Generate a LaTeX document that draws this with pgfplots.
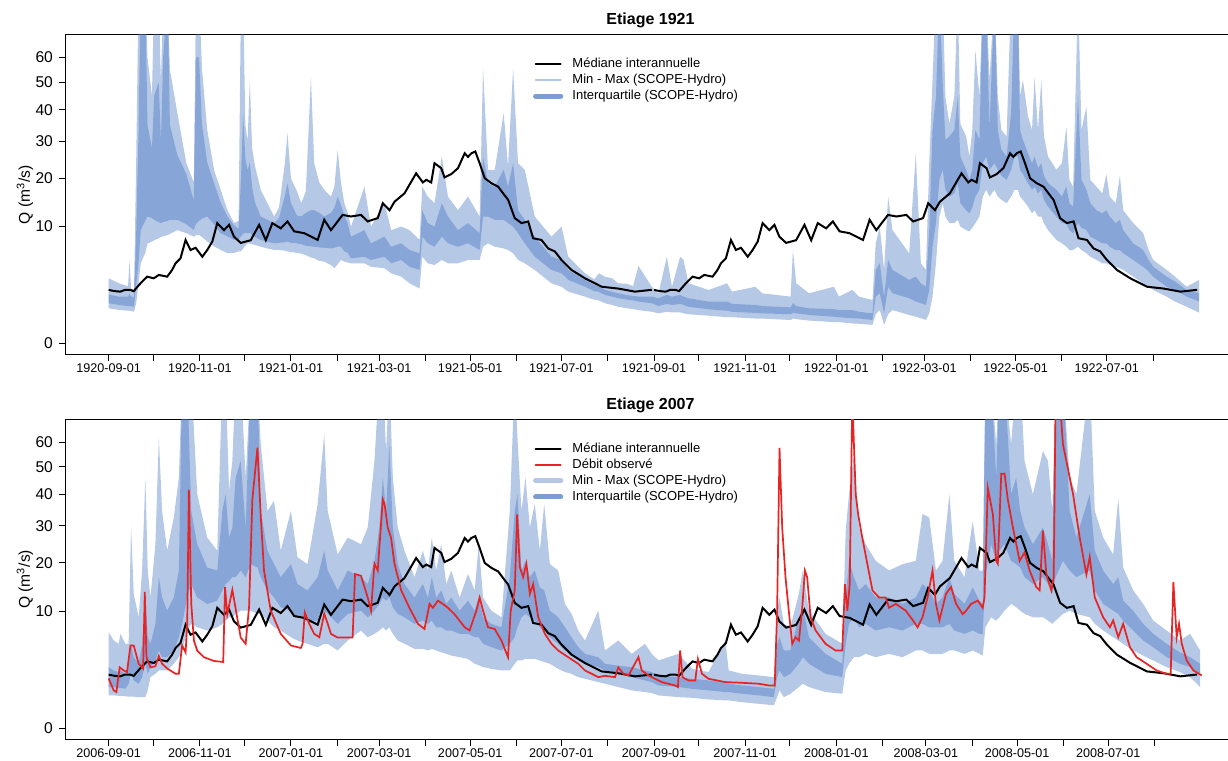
\documentclass[border=0pt]{standalone}
\usepackage{fontspec}
\setmainfont{Liberation Sans}
\usepackage{pgfplots}
\usepackage{pgfplotstable}
\usepgfplotslibrary{fillbetween}
\pgfplotsset{compat=1.18}

\definecolor{bandblue}{RGB}{60,110,190}
\definecolor{obsred}{RGB}{232,35,35}
\definecolor{legminmax}{RGB}{181,199,229}
\definecolor{legiqr}{RGB}{122,158,210}

% Interannual daily median (one hydrological year, day 0 = 1 September)
\pgfplotstableread{
d v
0 2.09
4 2.0
7.8 1.96
11 2.1
14.5 2.09
16.8 2.0
21.3 2.64
25.8 3.26
30.2 3.1
33.6 3.43
39.2 3.26
42.5 3.95
44.8 4.7
48.1 5.3
51.5 7.84
54.8 6.39
58.2 6.7
62.7 5.5
66 6.39
69.4 7.6
72.7 10.6
77.2 9.4
80.6 10.3
83.9 8.35
88.4 7.4
95.1 7.8
100.7 10.3
105.2 7.8
109.6 10.6
115.2 9.7
119.7 10.9
124.2 9.2
130.9 8.9
139.9 7.84
144.3 11.2
148.8 9.4
156.6 12.1
162.2 11.8
168.9 12.1
173.4 10.9
180.1 11.5
183.5 14.4
188 13.0
191.3 14.7
198 16.5
205.8 21.2
210.3 19.0
212.6 19.6
215.9 19
218.1 23.8
222.6 22.5
224.8 20.2
229.3 21
233.8 22.5
238.3 26.5
240.5 25.5
242.8 26.5
245.4 27
248.3 23.8
251.7 20
256.2 18.8
260.7 18.0
264 16.5
267.4 15.1
271.8 11.5
276.3 10.6
280.8 10.9
284.1 8.1
289.7 7.84
294.2 6.6
298.6 6.2
303.1 5.1
309.8 3.95
318.8 3.1
330 2.35
341.1 2.2
352.3 1.96
363.5 2.1
}\mediane

% SCOPE-Hydro ensemble, 1920-09-01 to 1922-08-31: min, q25, q75, max
\pgfplotstableread{
d lo q1 q3 hi
0 0.90 1.18 1.75 3.10
7 0.82 1.08 1.60 2.64
13 0.78 1.02 1.60 2.40
14 0.78 1.02 1.80 5.10
15 0.76 1.00 1.60 2.20
17 0.73 0.98 1.60 2.10
18.5 1.20 2.60 9.40 25.6
20 2.60 4.70 33.0 90
21.5 4.70 9.40 90 90
24.5 6.00 11.0 90 90
26 7.30 11.8 35.0 60
29 7.60 11.5 28.0 45
30.5 7.80 11.2 45.0 90
33.5 8.10 10.8 50.0 90
35 8.30 10.6 30.0 50
36.5 8.40 10.8 60.0 90
39.5 8.60 11.0 90 90
41 8.80 11.2 35.0 55
46 9.40 11.2 26.0 38.9
52 8.90 10.4 21.0 23.8
57 8.35 9.40 15.0 19.0
58.5 8.60 10.5 60.0 90
60.5 8.60 11.0 60.0 90
62.5 8.30 11.4 35.0 55
66 7.60 11.8 24.0 33.4
70.6 6.90 10.4 18.8 22.0
75 6.40 8.90 14.5 17.3
79.5 5.95 8.40 11.8 13.0
84 6.00 7.84 10.2 10.6
87 6.20 7.90 9.60 11.0
88.6 6.20 8.40 20.0 90
90 6.60 8.80 38.9 90
91.5 7.00 9.00 25.0 35
93 7.34 8.90 22.0 30
94.5 7.30 9.00 24.0 50.9
96 7.20 8.60 18.0 28
98 7.10 8.30 14.5 23
101.8 6.85 7.84 11.8 17.3
106.3 6.60 7.60 11.2 14.4
110.7 6.40 7.34 10.6 11.8
114 6.40 7.40 11.5 13.5
118 6.30 7.50 16.0 24
119.7 6.20 7.60 18.8 32.5
122 6.10 7.40 14.5 20
126 6.00 7.34 12.0 17
129 5.90 7.20 11.8 14.4
132 5.70 7.00 12.5 17
135.4 5.40 6.90 13.0 52
137.6 5.30 6.85 13.0 23.8
141 5.00 6.75 12.5 19
144.3 4.90 6.70 11.8 17.3
148.8 4.50 6.60 12.5 15.8
151.1 4.13 6.70 13.5 18
153.3 4.60 6.85 15.8 27.4
155.5 5.10 6.85 14.0 19
157.7 4.90 6.20 12.0 14.4
160 4.80 6.00 10.5 12.5
162.2 4.70 5.30 8.35 10.0
171.2 4.70 5.50 9.40 18.0
175.6 4.30 5.10 7.34 10.0
184.6 4.13 5.50 8.35 14.4
189.1 3.60 4.70 6.85 9.40
195.8 3.26 5.10 7.34 10.0
201.4 2.64 4.30 6.39 9.40
208.1 2.20 3.95 5.95 7.84
209.9 5.50 8.35 13.0 18.0
213.6 4.70 7.34 10.6 15.8
218.1 4.50 6.85 10.0 14.4
223 5.10 8.35 14.4 25.6
227.1 4.70 7.34 11.8 15.8
233.8 4.70 6.85 9.40 13.0
240.5 5.10 7.34 10.6 15.8
248.3 5.10 6.39 8.90 11.8
250.6 6.85 11.8 25.6 55.5
253.9 7.34 11.8 18.8 22.1
258.4 6.85 11.2 18.0 22.1
264.4 6.60 11.2 22.1 38.9
267.3 6.39 10.6 18.0 22.9
270.7 5.95 10.0 23.8 55.5
274 5.10 8.90 13.0 23.8
278.5 4.70 7.34 11.2 22.1
285.2 3.95 5.50 8.35 11.8
296.4 2.64 3.95 5.50 8.35
303.1 2.35 3.60 5.10 10.0
307.6 1.96 2.95 3.95 5.50
318.8 1.60 2.35 2.95 3.60
325 1.40 2.00 2.50 3.00
328 1.35 1.95 2.40 3.60
332.2 1.18 1.72 2.09 3.26
337 1.08 1.60 1.95 3.10
341.1 0.98 1.49 1.84 2.64
347 0.90 1.40 1.70 2.60
351 0.86 1.35 1.65 2.40
354.6 0.81 1.28 1.60 4.40
363.5 0.73 1.18 1.60 2.35
368 0.66 1.02 1.49 1.84
373.6 0.73 1.14 1.72 5.50
377 0.70 1.08 1.60 2.35
382.5 0.70 1.14 1.72 5.50
384.8 0.66 1.08 1.60 5.10
388.1 0.62 0.98 1.49 2.64
401.5 0.56 0.85 1.28 2.09
413.9 0.50 0.78 1.28 2.64
417.2 0.50 0.73 1.14 1.96
432.9 0.45 0.68 1.08 2.35
437.3 0.45 0.66 1.02 1.84
456.4 0.40 0.62 0.95 1.60
458 0.45 0.68 1.18 6.39
460.2 0.43 0.66 1.02 2.64
468.7 0.38 0.59 0.90 1.84
485.4 0.33 0.52 0.86 2.35
488.8 0.33 0.50 0.81 1.60
497.7 0.29 0.46 0.81 2.09
502.2 0.28 0.45 0.73 1.60
511.2 0.25 0.40 0.66 1.38
513.4 0.62 1.60 3.95 7.34
516.1 0.81 1.84 4.70 10.0
519 0.25 0.66 1.60 3.95
521.7 0.62 2.35 5.10 15.8
524.6 0.81 1.84 3.95 9.40
535.8 0.59 1.49 2.95 5.95
540.2 0.52 1.28 3.26 26.5
543.6 0.46 1.18 2.64 4.70
547 0.40 1.08 2.35 3.95
549.2 0.66 2.09 9.40 23.8
551.4 1.60 6.85 33.4 50.9
553.7 4.70 10.6 44.7 90
556 11.8 19.6 90 90
558.2 14.4 22.1 50 90
560 11.8 17.3 30.4 44.7
562.7 10.6 15.8 31.4 35.4
566 10.6 16.5 33.4 44.7
568.3 11.2 18.8 44.7 90
570 10.0 14.4 25.6 35.4
573.9 9.40 13.0 22.1 31.4
576.1 9.20 12.4 19.6 25.6
578 9.80 13.5 22.1 33.4
580.1 10.6 15.8 33.4 63
582.8 11.8 17.3 30.4 44.7
585.1 15.8 23.8 90 90
587.3 17.3 25.6 90 90
589.5 15.8 22.1 33.4 50.9
592.9 17.3 23.8 90 90
595.1 15.8 22.1 33.4 44.7
597.5 15.1 20.6 27.5 33.4
601 14.4 19.6 25.6 31.4
604 15.8 22.1 38.9 90
606.3 17.3 25.6 90 90
608.5 17.3 25.6 90 90
610 15.8 22.1 33.4 44.7
611.9 15.1 21.0 30.4 50.9
615.3 13.7 18.8 26.5 37.8
618 12.4 17.3 23.8 33.4
619.7 13.0 18.0 25.6 52
622 11.8 16.5 22.5 33.4
624.2 11.8 17.3 23.8 50.9
626 10.6 15.1 20.6 31.4
628.7 9.40 13.7 18.8 25.6
634.3 7.84 11.8 17.3 22.1
638 7.34 10.6 15.8 23.8
641 6.85 10.6 18.0 34.4
643 6.39 9.40 14.4 19.6
645.5 6.39 8.90 13.7 18.0
648.8 6.85 10.6 44.7 90
651.1 6.39 9.80 19.6 33.4
654.4 5.95 9.40 17.3 41.1
657 5.50 8.35 14.4 19.6
661.1 5.10 7.84 13.0 18.0
665 4.70 7.34 12.4 16.5
667.8 4.70 7.34 13.0 21.0
670 4.50 6.85 11.8 15.8
674 4.30 6.39 10.6 14.4
676.8 4.13 6.39 11.2 20.6
679 3.95 5.95 9.40 13.0
685.7 3.26 5.10 7.34 10.6
692.4 2.64 4.30 6.39 8.90
696 2.35 3.80 5.10 6.39
699.1 2.09 3.26 4.30 5.10
708.1 1.60 2.35 3.26 3.95
713.7 1.28 2.09 2.80 3.26
721.5 0.98 1.60 2.09 2.35
729.8 0.69 1.28 1.84 2.95
}\bandA

% SCOPE-Hydro ensemble, 2006-09-01 to 2008-08-31: min, q25, q75, max
\pgfplotstableread{
d lo q1 q3 hi
0 0.78 1.23 2.72 6.74
3.4 0.78 1.23 2.43 5.62
6.7 0.76 1.18 2.30 5.20
7.9 0.76 1.18 2.43 6.51
11.2 0.74 1.13 2.16 5.20
13.4 0.72 1.44 3.03 5.20
15 0.72 2.16 5.20 30.0
16.8 0.72 1.66 3.68 13.2
20.1 0.70 1.44 3.03 9.00
22.4 0.70 1.90 5.20 18.2
24.6 0.70 3.03 12.5 46.0
26.2 1.04 2.16 6.05 18.2
28 1.90 2.72 5.20 12.5
31.3 2.16 3.35 7.96 24.8
33.6 2.43 4.41 16.7 62
35.8 2.43 3.68 12.5 34.6
39.2 2.43 3.68 10.1 23.1
43.6 3.03 4.41 12.5 32.5
47 3.68 6.05 18.2 46.0
49.2 4.41 7.96 90 90
52.6 6.97 12.5 90 90
55.3 7.96 15.2 34.6 90
59.3 7.45 12.5 24.8 40.1
66 6.97 11.3 18.9 26.6
72.7 7.45 11.9 18.2 23.1
76.1 7.96 13.9 34.6 90
78.3 8.47 15.2 40.1 90
80.6 9.00 15.9 26.6 41.3
82.8 9.00 16.7 29.5 52.3
85 9.56 16.7 46.0 90
88.4 10.1 18.2 52.3 90
91.7 10.1 16.7 29.5 46.0
95.1 10.1 19.7 90 90
99.6 9.56 18.9 90 90
101.8 9.56 16.7 34.6 59.1
106.3 8.47 13.9 23.1 34.6
110.7 7.45 12.5 19.7 37.9
115.2 6.97 10.7 16.7 23.1
122 6.05 10.1 19.7 34.6
126.4 5.62 9.00 15.2 21.4
133.1 5.20 8.47 13.9 19.7
139.9 4.79 8.47 16.7 36.8
144.3 5.20 10.1 23.1 63.3
146.6 5.20 9.56 18.2 34.6
153.3 4.41 7.96 13.9 22.1
160 5.62 9.56 18.2 26.6
168.9 6.97 10.1 16.7 24.8
173.4 6.05 9.00 15.2 29.5
177.9 6.51 10.1 20.5 52.3
181.2 6.97 11.3 29.5 90
183.5 7.45 12.5 46.0 90
185.7 6.97 11.9 34.6 56.3
187.9 7.45 12.5 59.1 90
190.2 6.51 10.7 29.5 46.0
193.5 5.62 9.56 19.7 29.5
198 5.20 9.00 15.2 23.1
204.7 4.60 7.96 12.5 16.7
210.3 4.60 8.47 15.2 23.1
213.7 4.41 7.96 12.5 18.2
216.3 4.60 8.47 16.7 26.6
219.2 4.41 7.45 12.5 18.2
222.6 4.20 7.45 13.9 24.8
226 4.04 6.97 11.3 15.2
229.3 3.85 6.97 12.5 18.2
234.9 3.68 6.51 10.1 12.5
240.5 3.50 6.51 11.9 17.4
245 3.03 6.05 10.1 13.9
247.7 2.90 6.05 12.5 24.8
250.6 2.72 5.20 9.00 12.5
256.2 2.57 4.79 7.96 10.1
262.9 2.43 4.41 7.45 9.00
268.5 2.43 5.20 16.7 34.6
271.8 3.03 6.05 34.6 90
273.6 3.35 7.45 40.1 62
276.3 3.35 9.00 18.2 34.6
279 3.50 9.56 20.5 46.0
281.9 3.50 9.00 16.7 29.5
285.2 3.50 8.47 18.2 36.8
288.6 3.35 7.45 14.5 23.1
291.5 3.20 6.97 13.9 36.8
295.3 3.03 6.05 10.1 19.7
300.9 2.57 5.20 9.00 18.2
305.4 2.30 4.41 7.45 11.3
309.8 2.16 4.04 6.05 9.56
314.3 1.90 3.35 4.79 6.97
318.8 1.78 3.03 4.04 5.62
327.7 1.55 2.72 3.68 10.1
332.2 1.44 2.43 3.03 4.41
341.1 1.23 2.16 2.85 5.62
350.1 1.04 1.90 2.72 4.04
359 0.95 1.66 2.43 5.20
363.5 0.90 1.55 2.30 4.04
368 0.78 1.33 2.03 3.35
381.4 0.70 1.23 1.90 4.04
390.4 0.67 1.13 1.78 2.57
401.5 0.60 1.04 1.66 2.30
412.7 0.56 0.95 1.55 5.62
415 0.56 0.95 1.44 2.43
423.9 0.49 0.86 1.33 2.16
435.1 0.43 0.78 1.23 2.03
445.2 0.38 0.70 1.13 1.90
447.4 0.70 1.90 5.20 10.1
449 1.04 2.43 6.05 12.5
451.9 0.70 1.90 4.41 7.96
456.3 0.86 2.16 4.41 7.45
461.9 1.23 3.03 9.00 13.2
464.6 1.44 3.68 10.7 18.2
468.7 1.23 3.03 6.05 10.1
479.8 0.95 2.16 4.04 6.51
491 0.86 1.90 3.03 5.20
493.3 2.43 5.20 12.5 28.5
495.5 3.03 7.96 20.5 40.1
498.8 3.68 9.00 16.7 55
502.2 3.68 7.45 13.9 29.5
506.7 4.04 7.96 15.2 24.8
513.4 3.68 6.97 12.5 20.5
522.3 4.04 7.45 12.5 18.2
531.3 3.68 6.97 11.3 19.7
540.2 4.41 7.96 12.5 20.5
544.7 4.41 7.96 15.2 33.6
549.2 4.04 7.45 13.9 32.5
553.7 4.04 7.45 11.3 18.2
558.1 4.04 7.45 12.5 20.5
562.7 4.41 7.96 16.7 40.1
566 4.41 6.97 13.2 20.5
572.8 4.04 6.51 11.3 16.7
578.3 4.41 6.97 14.5 31.4
582.8 4.04 6.51 11.9 18.2
585 3.85 6.51 11.3 18.2
586.8 7.45 16.7 90 90
590.6 9.00 24.8 90 90
594 8.47 20.5 46.0 59.1
596.2 9.00 23.1 90 90
599.6 10.1 24.8 90 90
604 11.3 20.5 40.1 59.1
607.4 10.7 19.7 46.0 90
610.1 10.1 18.9 34.6 90
613 9.56 16.7 29.5 52.3
618.6 9.00 15.2 24.8 40.1
625.3 9.00 16.7 29.5 56.3
628.7 8.47 15.2 24.8 52.3
631.6 7.96 13.2 20.5 34.6
633.8 8.47 16.7 90 90
638.7 9.56 20.5 90 90
643.2 10.1 18.2 34.6 46.0
647.7 9.56 16.7 26.6 40.1
656.6 9.00 18.2 40.1 90
660 7.96 13.9 23.1 34.6
665.6 6.97 11.3 18.2 26.6
672.3 6.05 10.1 15.2 22.1
675.7 5.62 9.56 16.7 38.7
679 5.20 8.47 11.9 18.9
685.7 4.41 6.97 10.1 13.9
692.4 3.85 5.62 7.96 11.3
699.1 3.35 4.79 6.51 8.47
708.1 2.72 3.68 5.20 6.97
717 2.30 3.03 4.20 5.62
723.8 1.90 2.72 3.68 6.51
730.5 1.23 2.16 3.03 4.41
}\bandB

% Observed discharge, 2006-09-01 to 2008-08-31
\pgfplotstableread{
d v
0 1.8
3.4 1.04
5.2 0.95
7.4 2.7
10.1 2.43
12.3 2.3
14.6 5.0
16.8 5.0
20.1 3.03
23.1 2.6
24.2 13.6
25.3 3.7
28 2.7
31.3 2.8
33.6 3.8
35.8 3.03
39.2 2.6
44.8 2.16
47 2.16
49.2 5.0
51.5 4.2
52.6 8.0
53.7 41.7
55.3 11.3
57.1 5.6
59.3 4.4
63.8 3.68
70.5 3.3
76.7 3.2
77.9 14.6
79.4 9.5
82.8 14.0
88.4 6.0
91.7 5.2
94 10.8
96.2 38.3
99.6 57.7
101.8 33
104 18.2
108.5 10.1
115.2 6.5
122 5.0
128.6 4.7
129.8 5.2
131.3 9.8
134.2 8.0
137.6 6.5
141 6.05
144.3 9.6
146.6 8.0
148.8 6.5
153.3 6.0
163.3 6.0
164.9 17.4
168.9 17.0
173.4 12.5
175.6 10.1
177.9 19.8
180.1 18.2
183.5 38.3
184.6 37
186.8 29.5
189 26.6
191.3 19.8
195.8 13.9
201.3 10.6
207 7.96
211.4 7.2
214.8 11.3
217 10.6
220.4 11.9
223.7 11.3
227.1 10.6
231.5 9.5
238.3 7.45
241.6 7.0
246.1 10.1
248.3 12.5
250.6 10.1
253.9 7.45
258.4 7.2
262.9 5.6
267.3 3.68
269.1 10.1
271.8 13.9
273.4 33.5
275.2 19
277.4 16.7
279.6 19.8
281.9 13.2
284.1 15.2
287.5 9.0
292 6.5
296.4 5.2
300.9 4.41
307.6 3.68
314.3 3.03
318.8 2.43
323.3 2.16
327.7 1.9
332.2 2.0
338.9 1.9
341.1 2.7
344.5 2.16
347.9 2.03
354.6 3.68
356.8 2.43
361.3 2.03
363.5 1.9
370.2 1.55
379.2 1.33
381 1.23
382.5 4.41
384.1 1.9
388.1 1.66
392.6 1.66
394.4 3.5
397.1 2.16
401.5 1.78
412.7 1.55
423.9 1.5
435.1 1.44
441.8 1.33
445.8 1.33
447.4 10.1
449 57.6
450.8 29.5
453 16.7
455.2 10.1
457.5 5.2
459.7 6.05
462 5.6
464.2 10.6
466 18.2
467.5 16.7
469.8 9.0
473.1 7.0
479.8 5.2
486.5 4.41
491 4.41
492.8 15.2
494.4 10.1
496 15.2
497.7 80
500 40
501.8 33
504.4 26.6
506.7 21.8
511.2 13.9
515.6 12.5
520.1 12.5
522.3 10.6
526.8 11.3
533.5 10.1
538 8.6
541.4 7.45
544.7 9.0
548.1 12.5
551.4 18.2
553.7 11.3
556 8.5
560.4 13.2
563.8 14.6
567.2 11.3
571.6 9.5
573.9 10.1
577.2 11.3
581.7 11.9
585 10.6
586.2 12.5
588.4 42.3
591.8 33.5
594 20.5
595.1 19.8
597.4 47.4
599.6 47.4
601.8 38.3
605.2 29.5
609.7 20.5
613 22.6
616.4 18.2
620.8 14.6
623.1 13.9
625.3 28.6
627.6 17.3
630.9 13.9
632.5 16.7
633.8 80
636.5 80
638.7 59
641 52.3
645.5 40
649.9 26.6
654.4 17.3
656.6 21.5
660 12.5
665.6 9.0
670.1 7.45
672.3 8.5
675.7 6.05
679 7.96
683.5 4.8
688 3.68
694.7 3.03
701.4 2.43
708.1 2.16
710.8 2.16
712.6 15.6
714.8 6.05
716.4 7.96
718.2 5.2
721.5 3.35
726 2.43
731.6 2.03
}\observe

\pgfplotsset{
  hydro/.style={
    scale only axis,
    width=589pt, height=160.35pt,
    xmin=-29.2, xmax=759.2,
    ymin=-0.316, ymax=8.37,
    axis line style={line width=0.5pt},
    every tick/.style={black, line width=0.5pt},
    tick align=outside,
    major tick length=3pt,
    xtick pos=left, ytick pos=left,
    ytick={0,3.16228,4.47214,5.47723,6.32456,7.07107,7.74597},
    yticklabels={0,10,20,30,40,50,60},
    y filter/.expression={sqrt(y)},
    yticklabel style={font=\fontsize{7.8}{9}\selectfont, anchor=east, inner sep=0pt, xshift=-2.85pt},
    xticklabel style={font=\fontsize{6.3}{7.5}\selectfont, anchor=north, inner sep=0pt, yshift=-1.25pt},
    ylabel={Q (m\textsuperscript{3}/s)},
    ylabel style={font=\fontsize{7.8}{9}\selectfont, at={(axis description cs:-0.034,0.5)}, anchor=center},
    every axis title shift=0pt,
    title style={font=\bfseries\fontsize{8}{9.6}\selectfont, at={(axis description cs:0.497,1)}, anchor=center, yshift=7.0pt},
    legend style={draw=none, fill=none, inner sep=0pt, at={(0.397,0.933)}, anchor=north west,
      font=\fontsize{6.5}{7.8}\selectfont,
      nodes={inner sep=0.6pt, text height=5.2pt, text depth=1.6pt},
      /tikz/every odd column/.append style={column sep=4pt}},
    legend cell align=left,
    legend image code/.code={\draw[#1, line cap=round] (0pt,0pt) -- (12.5pt,0pt);},
  },
  medline/.style={black, line width=1pt, forget plot},
  edge/.style={draw=none, forget plot},
  bandfill/.style={fill=bandblue, fill opacity=0.38, draw=none, forget plot},
}

\begin{document}
\begin{tikzpicture}

% ---- Etiage 1921 ----
\begin{axis}[hydro, at={(32.5pt,-17.15pt)}, anchor=north west,
  title={Etiage 1921},
  xtick={0,30,61,91,122,153,181,212,242,273,303,334,365,395,426,456,487,518,546,577,607,638,668,699},
  xticklabels={1920-09-01,,1920-11-01,,1921-01-01,,1921-03-01,,1921-05-01,,1921-07-01,,1921-09-01,,1921-11-01,,1922-01-01,,1922-03-01,,1922-05-01,,1922-07-01,},
]
\addlegendimage{black, line width=1pt}
\addlegendentry{Médiane interannuelle}
\addlegendimage{legminmax, line width=1.1pt}
\addlegendentry{Min - Max (SCOPE-Hydro)}
\addlegendimage{legiqr, line width=2.6pt}
\addlegendentry{Interquartile (SCOPE-Hydro)}

\addplot[medline] table[x=d, y=v] {\mediane};
\addplot[medline] table[x expr=\thisrow{d}+365, y=v] {\mediane};

\addplot[edge, name path=ahi] table[x=d, y=hi] {\bandA};
\addplot[edge, name path=alo] table[x=d, y=lo] {\bandA};
\addplot[edge, name path=aqt] table[x=d, y=q3] {\bandA};
\addplot[edge, name path=aqb] table[x=d, y=q1] {\bandA};
\addplot[bandfill] fill between[of=ahi and alo];
\addplot[bandfill] fill between[of=aqt and aqb];
\end{axis}

% ---- Etiage 2007 ----
\begin{axis}[hydro, at={(32.5pt,-209.5pt)}, anchor=north west,
  title={Etiage 2007},
  xtick={0,30,61,91,122,153,181,212,242,273,303,334,365,395,426,456,487,518,547,578,608,639,669,700},
  xticklabels={2006-09-01,,2006-11-01,,2007-01-01,,2007-03-01,,2007-05-01,,2007-07-01,,2007-09-01,,2007-11-01,,2008-01-01,,2008-03-01,,2008-05-01,,2008-07-01,},
]
\addlegendimage{black, line width=1pt}
\addlegendentry{Médiane interannuelle}
\addlegendimage{obsred, line width=1pt}
\addlegendentry{Débit observé}
\addlegendimage{legminmax, line width=2.6pt}
\addlegendentry{Min - Max (SCOPE-Hydro)}
\addlegendimage{legiqr, line width=2.6pt}
\addlegendentry{Interquartile (SCOPE-Hydro)}

\addplot[medline] table[x=d, y=v] {\mediane};
\addplot[medline] table[x expr=\thisrow{d}+365, y=v] {\mediane};
\addplot[obsred, line width=0.85pt, forget plot] table[x=d, y=v] {\observe};

\addplot[edge, name path=bhi] table[x=d, y=hi] {\bandB};
\addplot[edge, name path=blo] table[x=d, y=lo] {\bandB};
\addplot[edge, name path=bqt] table[x=d, y=q3] {\bandB};
\addplot[edge, name path=bqb] table[x=d, y=q1] {\bandB};
\addplot[bandfill] fill between[of=bhi and blo];
\addplot[bandfill] fill between[of=bqt and bqb];
\end{axis}

% page frame: the right end of both axes runs past the page edge
\pgfresetboundingbox
\path[use as bounding box] (0,0) rectangle (614pt,-380.5pt);
\end{tikzpicture}
\end{document}
